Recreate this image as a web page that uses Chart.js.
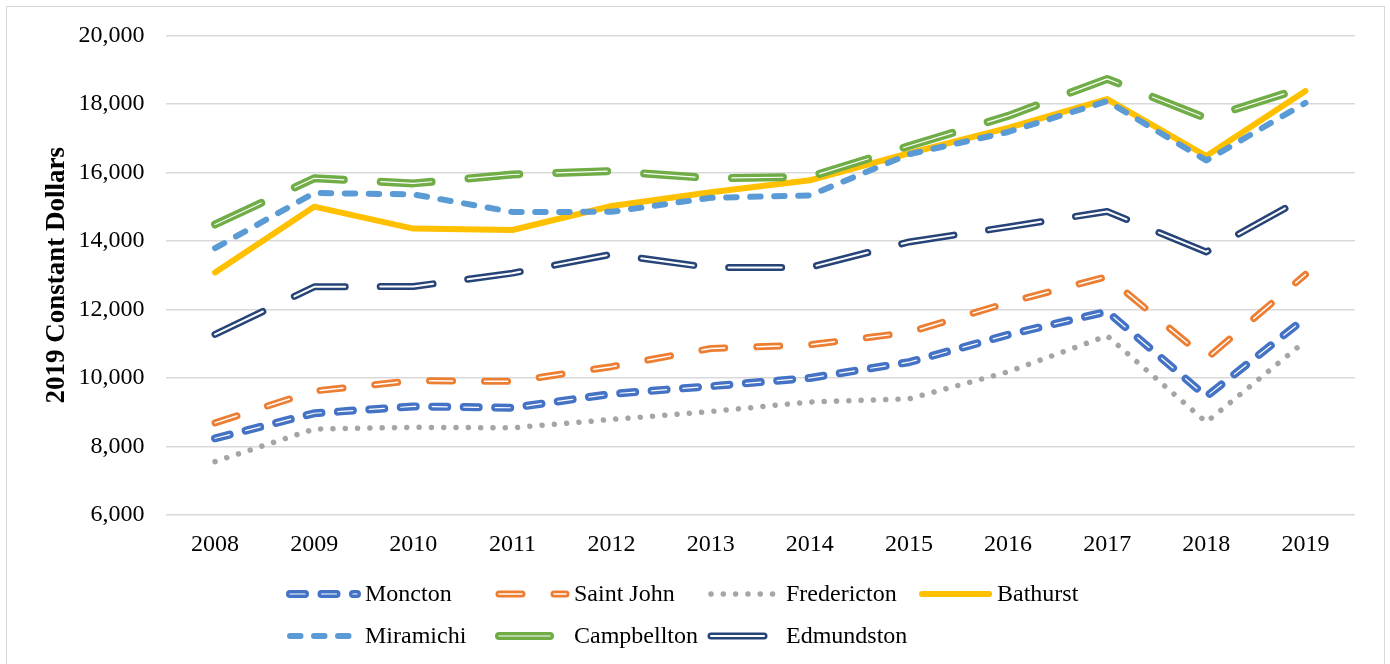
<!DOCTYPE html>
<html>
<head>
<meta charset="utf-8">
<script src="https://cdn.jsdelivr.net/npm/chart.js@4.4.1/dist/chart.umd.min.js"></script>
<style>
  html, body { margin: 0; padding: 0; background: #fff; }
  #wrap { position: relative; width: 1390px; height: 664px; overflow: hidden; }
  #frame { position: absolute; left: 6px; top: 6px; width: 1379px; height: 720px;
           border: 1.5px solid #d9d9d9; box-sizing: border-box; }
  #c { position: absolute; left: 0; top: 0; }
</style>
</head>
<body>
<div id="wrap">
  <div id="frame"></div>
  <canvas id="c" width="1390" height="664"></canvas>
</div>
<script>
// Years on the category axis
const years = ['2008', '2009', '2010', '2011', '2012', '2013', '2014', '2015', '2016', '2017', '2018', '2019'];

// Values per city, 2019 constant dollars
const moncton     = [8240, 8970, 9170, 9130, 9535, 9760, 10000, 10460, 11260, 11940, 9460, 11750];
const saintJohn   = [8690, 9620, 9920, 9900, 10330, 10860, 10970, 11330, 12200, 12960, 10560, 13020];
const fredericton = [7560, 8510, 8560, 8545, 8790, 9020, 9300, 9390, 10180, 11230, 8710, 11080];
const bathurst    = [13080, 15000, 14360, 14320, 15020, 15420, 15770, 16560, 17300, 18140, 16480, 18380];
const miramichi   = [13790, 15400, 15360, 14845, 14850, 15260, 15330, 16530, 17180, 18080, 16350, 18030];
const campbellton = [14480, 15830, 15680, 15940, 16040, 15830, 15870, 16770, 17650, 18730, 17580, 18490];
const edmundston  = [11270, 12660, 12670, 13060, 13610, 13220, 13230, 13970, 14410, 14860, 13680, 15280];

// Value axis ticks
const yTicks = [6000, 8000, 10000, 12000, 14000, 16000, 18000, 20000];

const cityNames = ['Moncton', 'Saint John', 'Fredericton', 'Bathurst', 'Miramichi', 'Campbellton', 'Edmundston'];
const cityValues = [moncton, saintJohn, fredericton, bathurst, miramichi, campbellton, edmundston];

// Line look for each city: colour, stroke width, dash, and width of the white core (double lines)
const lineLook = [
  { color: '#4472C4', width: 8,   dash: [15, 16.5],   core: 1.2 },
  { color: '#ED7D31', width: 7,   dash: [23, 32],     core: 1.5 },
  { color: '#A5A5A5', width: 5.5, dash: [0.01, 12.3], core: 0 },
  { color: '#FFC000', width: 6,   dash: [],           core: 0 },
  { color: '#5B9BD5', width: 6,   dash: [10.5, 13.5], core: 0 },
  { color: '#70AD47', width: 8,   dash: [51, 37],     core: 1.2 },
  { color: '#264478', width: 7,   dash: [53, 35],     core: 2 }
];

const FONT = "'Liberation Serif', 'Times New Roman', serif";
Chart.defaults.font.family = FONT;
Chart.defaults.color = '#000';

// Each city: a wide coloured stroke, and for double lines a thin white stroke on top of it.
const datasets = [];
const n = cityNames.length;
cityNames.forEach((name, i) => {
  const look = lineLook[i];
  const common = {
    data: cityValues[i],
    pointRadius: 0,
    pointHoverRadius: 0,
    tension: 0,
    fill: false,
    borderCapStyle: 'round',
    borderJoinStyle: 'round',
    borderDash: look.dash
  };
  datasets.push(Object.assign({}, common, {
    label: name,
    borderColor: look.color,
    borderWidth: look.width,
    order: 2 * (n - i)
  }));
  if (look.core > 0) {
    datasets.push(Object.assign({}, common, {
      label: name + ' core',
      borderColor: '#ffffff',
      borderWidth: look.core,
      order: 2 * (n - i) - 1
    }));
  }
});

// Legend laid out in fixed columns, two rows, below the plot
const legendCols = [286, 495, 707, 918];
const legendRows = [594, 636];
const rowLegend = {
  id: 'rowLegend',
  afterDraw(chart) {
    const ctx = chart.ctx;
    ctx.save();
    cityNames.forEach((name, i) => {
      const look = lineLook[i];
      const col = i < 4 ? i : i - 4;
      const row = i < 4 ? 0 : 1;
      const x0 = legendCols[col];
      const y = legendRows[row];
      const strokes = [[look.color, look.width]];
      if (look.core > 0) strokes.push(['#ffffff', look.core]);
      strokes.forEach(([c, w]) => {
        ctx.beginPath();
        ctx.setLineDash(look.dash);
        ctx.lineDashOffset = 0;
        ctx.lineCap = 'round';
        ctx.lineJoin = 'round';
        ctx.strokeStyle = c;
        ctx.lineWidth = w;
        ctx.moveTo(x0 + 4, y);
        ctx.lineTo(x0 + 71, y);
        ctx.stroke();
      });
      ctx.setLineDash([]);
      ctx.fillStyle = '#000';
      ctx.font = '24px ' + FONT;
      ctx.textAlign = 'left';
      ctx.textBaseline = 'middle';
      ctx.fillText(name, x0 + 79, y + 1);
    });
    ctx.restore();
  }
};

new Chart(document.getElementById('c'), {
  type: 'line',
  data: { labels: years, datasets: datasets },
  options: {
    responsive: false,
    animation: false,
    events: [],
    layout: { padding: { top: 34, right: 35, bottom: 99, left: 0 } },
    plugins: {
      legend: { display: false },
      tooltip: { enabled: false },
      title: { display: false }
    },
    scales: {
      x: {
        type: 'category',
        offset: true,
        grid: { display: false, drawTicks: false },
        border: { display: false },
        ticks: { font: { size: 24 }, color: '#000', padding: 15, maxRotation: 0, autoSkip: false },
        afterFit(scale) { scale.height = 50; }
      },
      y: {
        min: 6000,
        max: 20000,
        afterBuildTicks(scale) { scale.ticks = yTicks.map(v => ({ value: v })); },
        grid: { color: '#d9d9d9', lineWidth: 1.5, drawTicks: false },
        border: { display: false },
        ticks: {
          font: { size: 24 },
          color: '#000',
          padding: 21,
          callback: v => Number(v).toLocaleString('en-US')
        },
        title: {
          display: true,
          text: '2019 Constant Dollars',
          font: { size: 27, weight: 'bold' },
          color: '#000',
          padding: { top: 41, bottom: 0 }
        },
        afterFit(scale) { scale.width = 165.5; }
      }
    }
  },
  plugins: [rowLegend]
});
</script>
</body>
</html>
